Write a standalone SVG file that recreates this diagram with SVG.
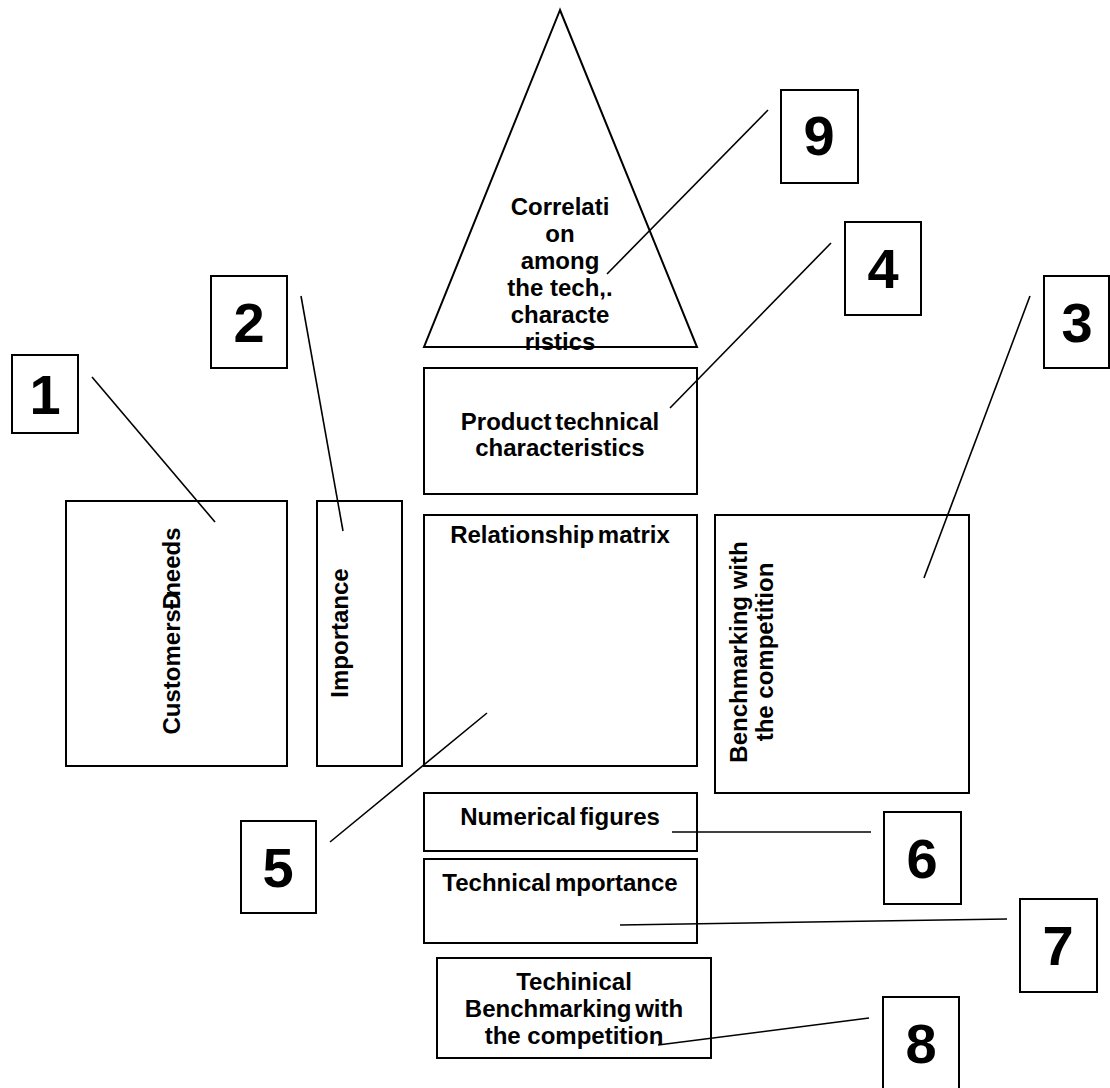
<svg xmlns="http://www.w3.org/2000/svg" width="1110" height="1088" viewBox="0 0 1110 1088">
  <style>
    .box { fill: #fff; stroke: #000; stroke-width: 2; }
    .lbl { font-family: "Liberation Sans", Arial, sans-serif; font-weight: bold; font-size: 24px; fill: #000; text-anchor: middle; }
    .tight { word-spacing: -3px; }
    .num { font-family: "Liberation Sans", Arial, sans-serif; font-weight: bold; font-size: 56px; fill: #000; text-anchor: middle; }
    .lead { stroke: #000; stroke-width: 1.6; fill: none; }
  </style>
  <rect width="1110" height="1088" fill="#fff"/>

  <!-- House of quality sections -->
  <g id="roof">
    <polygon class="box" points="560,10 424,347 697,347"/>
    <text class="lbl" x="560" y="215">Correlati</text>
    <text class="lbl" x="560" y="242">on</text>
    <text class="lbl" x="560" y="269">among</text>
    <text class="lbl" x="560" y="296">the tech,.</text>
    <text class="lbl" x="560" y="323">characte</text>
    <text class="lbl" x="560" y="350">ristics</text>
  </g>
  <g id="tech-characteristics">
    <rect class="box" x="424" y="368" width="273" height="126"/>
    <text class="lbl tight" x="560" y="430">Product technical</text>
    <text class="lbl" x="560" y="456">characteristics</text>
  </g>
  <g id="customer-needs">
    <rect class="box" x="66" y="501" width="221" height="265"/>
    <text class="lbl" transform="translate(180,631) rotate(-90)">CustomersÐ<tspan dx="-5">needs</tspan></text>
  </g>
  <g id="importance">
    <rect class="box" x="317" y="501" width="85" height="265"/>
    <text class="lbl" transform="translate(348,633) rotate(-90)">Importance</text>
  </g>
  <g id="relationship-matrix">
    <rect class="box" x="424" y="515" width="273" height="251"/>
    <text class="lbl tight" x="560" y="543">Relationship matrix</text>
  </g>
  <g id="competitive-benchmarking">
    <rect class="box" x="715" y="515" width="254" height="278"/>
    <text class="lbl" transform="translate(747,652) rotate(-90)">Benchmarking with</text>
    <text class="lbl" transform="translate(773,652) rotate(-90)">the competition</text>
  </g>
  <g id="numerical-figures">
    <rect class="box" x="424" y="793" width="273" height="58"/>
    <text class="lbl tight" x="560" y="825">Numerical figures</text>
  </g>
  <g id="technical-importance">
    <rect class="box" x="424" y="859" width="273" height="84"/>
    <text class="lbl tight" x="560" y="891">Technical mportance</text>
  </g>
  <g id="technical-benchmarking">
    <rect class="box" x="437" y="958" width="274" height="100"/>
    <text class="lbl" x="574" y="990">Techinical</text>
    <text class="lbl tight" x="574" y="1017">Benchmarking with</text>
    <text class="lbl" x="574" y="1044">the competition</text>
  </g>

  <!-- Numbered callouts -->
  <g id="callout-1"><rect class="box" x="12" y="355" width="66" height="78"/><text class="num" x="45" y="414">1</text></g>
  <g id="callout-2"><rect class="box" x="211" y="276" width="76" height="92"/><text class="num" x="249" y="342">2</text></g>
  <g id="callout-3"><rect class="box" x="1044" y="276" width="65" height="92"/><text class="num" x="1077" y="342">3</text></g>
  <g id="callout-4"><rect class="box" x="845" y="222" width="76" height="93"/><text class="num" x="883" y="288">4</text></g>
  <g id="callout-5"><rect class="box" x="241" y="821" width="75" height="92"/><text class="num" x="278" y="887">5</text></g>
  <g id="callout-6"><rect class="box" x="884" y="812" width="77" height="92"/><text class="num" x="922" y="878">6</text></g>
  <g id="callout-7"><rect class="box" x="1020" y="899" width="77" height="93"/><text class="num" x="1058" y="965">7</text></g>
  <g id="callout-8"><rect class="box" x="883" y="997" width="76" height="100"/><text class="num" x="921" y="1063">8</text></g>
  <g id="callout-9"><rect class="box" x="781" y="90" width="77" height="93"/><text class="num" x="819" y="155">9</text></g>

  <!-- Leader lines -->
  <g id="connectors">
    <line class="lead" x1="92" y1="377" x2="215" y2="522"/>
    <line class="lead" x1="301" y1="296" x2="343" y2="531"/>
    <line class="lead" x1="1030" y1="296" x2="924" y2="578"/>
    <line class="lead" x1="831" y1="243" x2="670" y2="408"/>
    <line class="lead" x1="330" y1="842" x2="487" y2="713"/>
    <line class="lead" x1="672" y1="832" x2="871" y2="832"/>
    <line class="lead" x1="620" y1="925" x2="1007" y2="919"/>
    <line class="lead" x1="658" y1="1045" x2="869" y2="1018"/>
    <line class="lead" x1="768" y1="110" x2="607" y2="274"/>
  </g>
</svg>
